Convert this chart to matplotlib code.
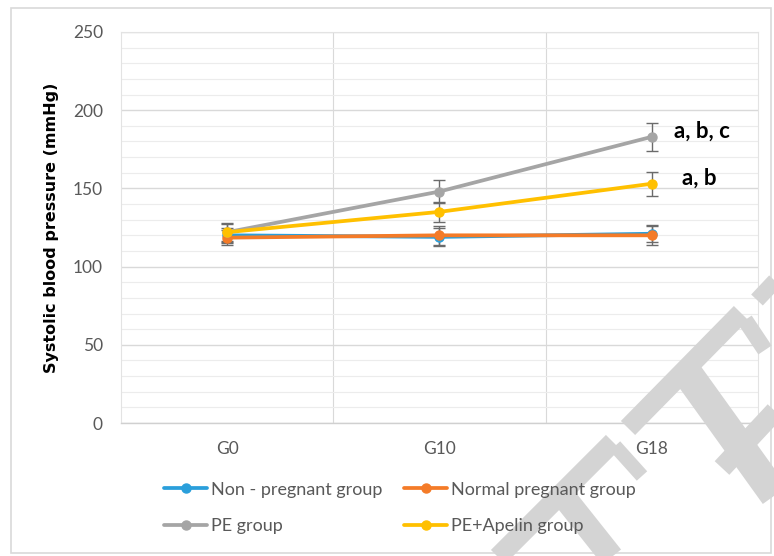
import matplotlib
matplotlib.use("Agg")
import matplotlib.pyplot as plt
from matplotlib.lines import Line2D
from matplotlib.patches import Rectangle

# data
stages = ["G0", "G10", "G18"]
non_pregnant = [120, 119, 121]
non_pregnant_err = [5, 6, 5.5]
normal_pregnant = [118.5, 120, 120]
normal_pregnant_err = [5, 6, 6]
pe_group = [122, 148, 183]
pe_group_err = [6, 7.4, 9]
pe_apelin = [122, 135, 153]
pe_apelin_err = [5.5, 6.4, 7.7]

labels = ["Non - pregnant group", "Normal pregnant group", "PE group", "PE+Apelin group"]
colors = ["#2A9FDB", "#F47B28", "#A5A5A5", "#FFC000"]
notes = ["", "", "a, b, c", "a, b"]

W, H = 774, 556
fig = plt.figure(figsize=(W / 100, H / 100), dpi=100)
ax = fig.add_axes([121 / W, 1 - 423 / H, (758 - 121) / W, (423 - 32) / H])

x = range(len(stages))
series = [non_pregnant, normal_pregnant, pe_group, pe_apelin]
errs = [non_pregnant_err, normal_pregnant_err, pe_group_err, pe_apelin_err]
handles = []
for i, (vals, err) in enumerate(zip(series, errs)):
    ax.errorbar(x, vals, yerr=err, fmt="none", ecolor="#6b6b6b", elinewidth=1.0,
                capsize=4, capthick=1.0, zorder=3 + i * 0.1)
    ln, = ax.plot(x, vals, color=colors[i], lw=2.7, marker="o", ms=6.5,
                  zorder=4 + i * 0.1, solid_capstyle="round")
    handles.append(ln)
    if notes[i]:
        dx = 22 if i == 2 else 30
        ax.annotate(notes[i], (x[-1], vals[-1]), xytext=(dx * 0.72, 4), textcoords="offset points",
                    ha="left", va="center", fontsize=16, fontweight="bold", family="Lato")

ax.set_xlim(-0.5, 2.5)
ax.set_ylim(0, 250)
ax.set_xticks(list(x))
ax.set_xticklabels(stages)
ax.set_xticks([0.5, 1.5], minor=True)
ax.set_yticks(range(0, 251, 50))
ax.set_yticks(range(0, 251, 10), minor=True)
ax.tick_params(which="both", length=0)
ax.tick_params(axis="both", labelsize=12.5, labelcolor="#595959")
ax.tick_params(axis="x", pad=13)
ax.tick_params(axis="y", pad=13)
for t in ax.get_xticklabels() + ax.get_yticklabels():
    t.set_family("Lato")
ax.grid(True, which="major", axis="y", color="#d9d9d9", lw=1.0)
ax.grid(True, which="minor", axis="y", color="#ececec", lw=0.8)
ax.grid(True, which="minor", axis="x", color="#d9d9d9", lw=0.8)
ax.set_axisbelow(True)
for s in ["top", "right", "left"]:
    ax.spines[s].set_color("#e3e3e3")
    ax.spines[s].set_linewidth(0.8)
ax.spines["bottom"].set_color("#d0d0d0")
ax.spines["bottom"].set_linewidth(1.0)

ax.set_ylabel("Systolic blood pressure (mmHg)", fontsize=11.5, fontweight="bold",
              family="DejaVu Sans", labelpad=10)

# outer chart border
fig.patches.append(Rectangle((11 / W, 1 - 553 / H), (771 - 11) / W, (553 - 8) / H,
                             transform=fig.transFigure, fill=False, edgecolor="#d9d9d9", lw=1.2))

# watermark strokes (pixel coords, y down)
wm = [
    ((741, 313), (628, 428), 20),
    ((745, 320), (765, 350), 16),
    ((685, 370), (800, 530), 30),
    ((790, 265), (757, 300), 16),
    ((790, 395), (722, 468), 20),
    ((613, 442), (480, 575), 20),
    ((615, 446), (642, 476), 14),
    ((560, 492), (622, 570), 24),
]
for (x0, y0), (x1, y1), w in wm:
    fig.lines.append(Line2D([x0 / W, x1 / W], [1 - y0 / H, 1 - y1 / H], transform=fig.transFigure,
                            color="#d4d4d4", lw=w * 0.72, solid_capstyle="butt", zorder=2))

# legend filled row by row like the original
order = [0, 2, 1, 3]
leg = fig.legend([handles[k] for k in order], [labels[k] for k in order], ncol=2, loc="center",
                 bbox_to_anchor=(400 / W, 1 - 508 / H), frameon=False,
                 prop={"family": "Lato", "size": 13}, labelcolor="#595959",
                 handlelength=2.4, handletextpad=0.2, columnspacing=1.2, labelspacing=1.15)
leg.set_zorder(5)

fig.savefig("out.png", dpi=100)
